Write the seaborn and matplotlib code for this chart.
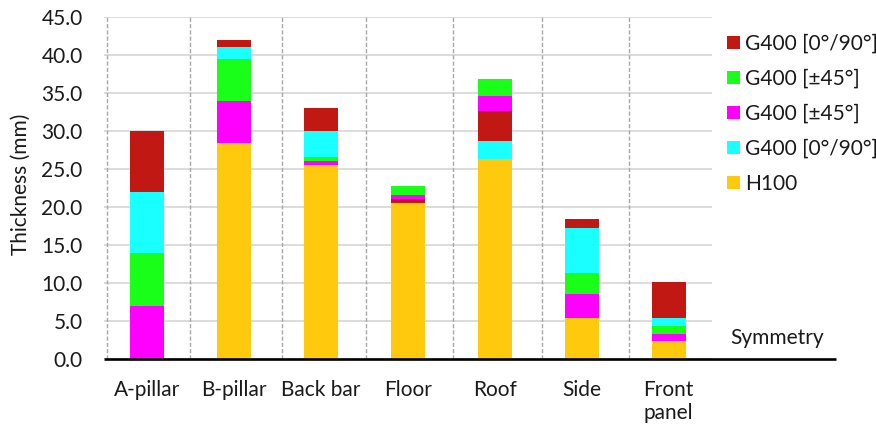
import matplotlib
matplotlib.use("Agg")
import matplotlib.pyplot as plt
from matplotlib.patches import Patch
from matplotlib.ticker import FormatStrFormatter
import numpy as np
import seaborn as sns

# Parts of the body structure
categories = ["A-pillar", "B-pillar", "Back bar", "Floor", "Roof", "Side", "Front\npanel"]

# Layer thicknesses (mm), listed from the bottom of each stack upwards
core_h100   = [0.0, 28.5, 25.6, 20.5, 26.4, 5.5, 2.4]
ply_pm45_a  = [7.0, 5.5, 0.5, 0.0, 0.0, 3.1, 1.0]
ply_pm45_b  = [7.0, 5.5, 0.5, 0.0, 0.0, 2.7, 1.0]
ply_090_a   = [8.0, 1.5, 3.4, 0.0, 2.3, 6.0, 1.0]
ply_090_b   = [8.0, 1.0, 3.0, 0.6, 3.9, 1.1, 4.8]
ply_pm45_c  = [0.0, 0.0, 0.0, 0.5, 2.0, 0.0, 0.0]
ply_pm45_d  = [0.0, 0.0, 0.0, 1.2, 2.2, 0.0, 0.0]

legend_labels = ["G400 [0°/90°]", "G400 [±45°]", "G400 [±45°]", "G400 [0°/90°]", "H100"]
y_ticks = [0, 5, 10, 15, 20, 25, 30, 35, 40, 45]

RED = "#C21814"
GREEN = "#1AFF1A"
MAGENTA = "#FF00FF"
CYAN = "#1AFFFF"
YELLOW = "#FFC90E"
TEXT = "#1A1A1A"
FS = 15

layers = [
    (core_h100, YELLOW),
    (ply_pm45_a, MAGENTA),
    (ply_pm45_b, GREEN),
    (ply_090_a, CYAN),
    (ply_090_b, RED),
    (ply_pm45_c, MAGENTA),
    (ply_pm45_d, GREEN),
]

sns.set_theme(style="white")
plt.rcParams["font.family"] = ["Lato", "DejaVu Sans"]
plt.rcParams["text.color"] = TEXT
plt.rcParams["xtick.color"] = TEXT
plt.rcParams["ytick.color"] = TEXT

fig = plt.figure(figsize=(8.76, 4.32), dpi=100)
ax = fig.add_axes([0.1182, 0.1681, 0.6946, 0.7925])

bottom = np.zeros(len(categories))
for values, color in layers:
    vals = np.asarray(values, dtype=float)
    sns.barplot(x=categories, y=vals, bottom=bottom, color=color, width=0.39,
                errorbar=None, saturation=1, linewidth=0, ax=ax, zorder=3)
    bottom = bottom + vals

ax.set_xlim(-0.5, len(categories) - 0.5)
ax.set_ylim(0, 45)
ax.set_yticks(y_ticks)
ax.yaxis.set_major_formatter(FormatStrFormatter("%.1f"))
ax.tick_params(axis="y", length=0, pad=15, labelsize=FS)
ax.tick_params(axis="x", length=0, pad=15, labelsize=FS)
ax.set_xlabel("")
ax.set_ylabel("")

for s in ax.spines.values():
    s.set_visible(False)

# horizontal gridlines
for t in y_ticks:
    ax.axhline(t, color="#D9D9D9", lw=1.3, zorder=1)

# dashed separators between parts
sep_positions = [-0.457, 0.495, 1.557, 2.52, 3.518, 4.549, 5.55]
for xs in sep_positions:
    ax.axvline(xs, color="#A8A8A8", lw=1.0, linestyle=(0, (3, 1.5)), zorder=2)

# baseline extending past the last part towards the symmetry plane
ax.plot([0, 1.204], [0, 0], transform=ax.get_yaxis_transform(), color="black",
        lw=1.9, clip_on=False, zorder=5, solid_capstyle="butt")

fig.text(730 / 876, 1 - 338 / 432, "Symmetry", fontsize=FS, va="center", ha="left")
fig.text(21 / 876, 1 - 184 / 432, "Thickness (mm)", fontsize=FS, rotation=90,
         va="center", ha="center")

handles = [Patch(facecolor=c, edgecolor="none") for c in [RED, GREEN, MAGENTA, CYAN, YELLOW]]
fig.legend(handles, legend_labels, loc="upper left", bbox_to_anchor=(727 / 876, 1 - 34 / 432),
           frameon=False, fontsize=FS, handlelength=0.6, handleheight=0.6,
           handletextpad=0.25, labelspacing=0.72, borderaxespad=0, borderpad=0)

fig.savefig("out.png", dpi=100)
